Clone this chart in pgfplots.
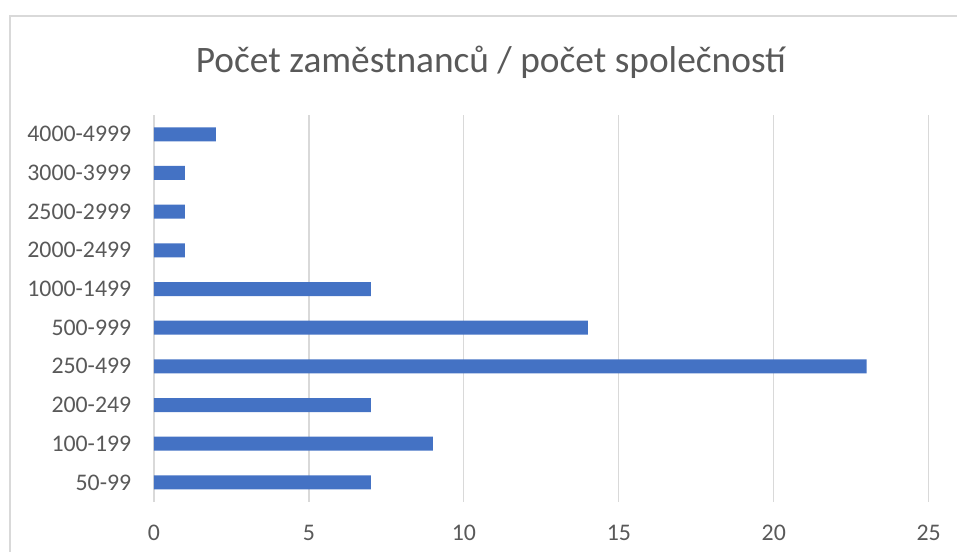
\documentclass[border=0pt]{standalone}
\usepackage{fontspec}
\setmainfont{Carlito}
\usepackage{pgfplots}
\pgfplotsset{compat=1.18}
\definecolor{barblue}{HTML}{4472C4}
\definecolor{txtgray}{HTML}{595959}
\definecolor{gridgray}{HTML}{D9D9D9}
\begin{document}
\begin{tikzpicture}[x=1bp,y=1bp]
\useasboundingbox (-154,-50.3) rectangle (803,501.7);
\draw[gridgray, line width=1.5bp] (-144,-50.3) -- (-144,485.7) -- (803,485.7);
\begin{axis}[at={(0,0)}, anchor=south west, scale only axis,
  width=774.7bp, height=386.7bp,
  xbar, bar width=14bp,
  xmin=0, xmax=25, ymin=-0.5, ymax=9.5,
  ytick={0,...,9},
  yticklabels={50-99,100-199,200-249,250-499,500-999,1000-1499,2000-2499,2500-2999,3000-3999,4000-4999},
  xtick={0,5,10,15,20,25},
  xmajorgrids, grid style={gridgray, line width=1.2bp},
  axis line style={draw=none}, tick style={draw=none},
  /pgf/number format/assume math mode=true,
  tick label style={font=\fontsize{23.9}{28}\selectfont, text=txtgray},
  yticklabel style={anchor=east, xshift=-15bp},
  xticklabel style={anchor=center, yshift=-31.3bp},
  clip=false,
]
\addplot[fill=barblue, draw=none] coordinates {
  (7,0) (9,1) (7,2) (23,3) (14,4) (7,5) (1,6) (1,7) (1,8) (2,9)
};
\end{axis}
\node[text=txtgray, font=\fontsize{37.5}{44}\selectfont] at (337,439.7) {Počet zaměstnanců / počet společností};
\end{tikzpicture}
\end{document}
